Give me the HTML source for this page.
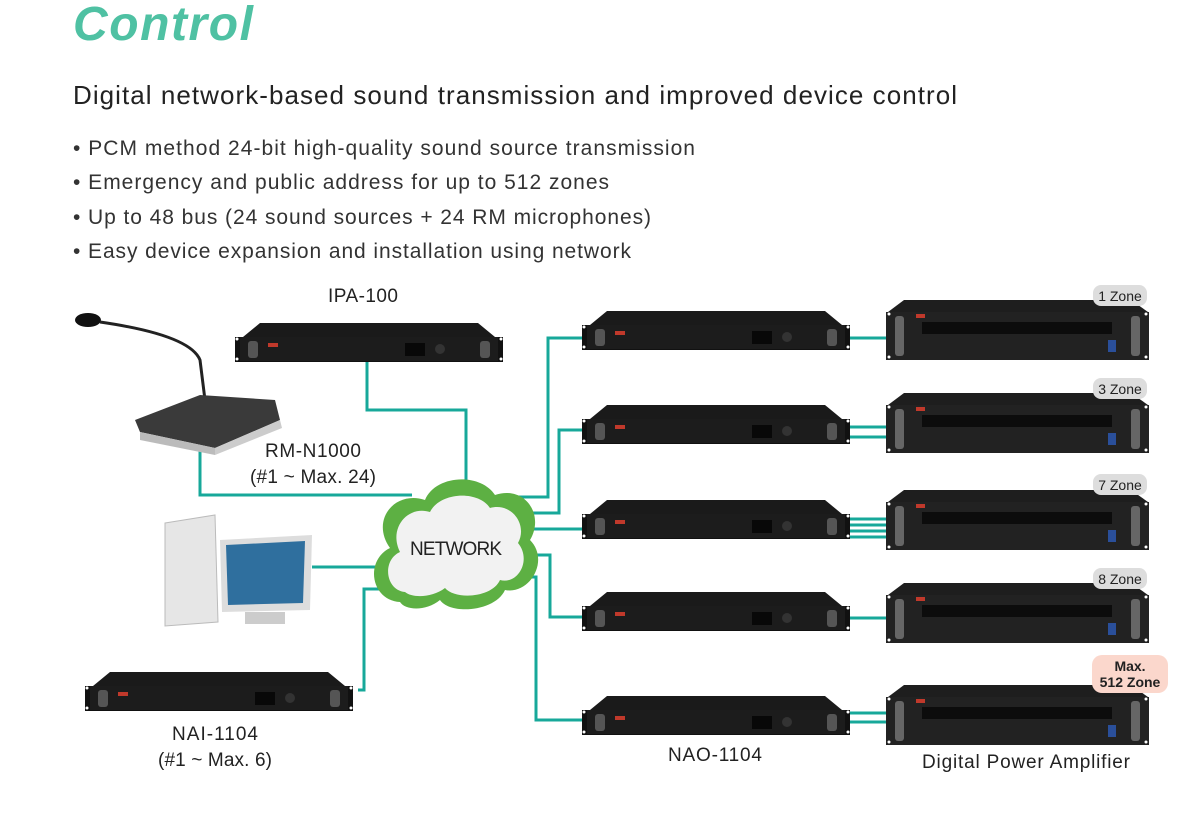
<!DOCTYPE html>
<html><head><meta charset="utf-8"><style>
html,body{margin:0;padding:0;background:#fff}
svg{display:block}
text{font-family:"Liberation Sans",sans-serif}
</style></head><body>
<svg width="1201" height="823" viewBox="0 0 1201 823" xmlns="http://www.w3.org/2000/svg">
<defs>
<g id="rack">
 <polygon points="20,0 238,0 255,14 3,14" fill="#1a1a1a"/>
 <rect x="-5" y="14" width="268" height="25" fill="#111"/>
 <rect x="0" y="14" width="258" height="24" fill="#1c1c1c"/>
 <rect x="8" y="18" width="10" height="17" rx="3" fill="#555"/>
 <rect x="240" y="18" width="10" height="17" rx="3" fill="#555"/>
 <rect x="28" y="20" width="10" height="4" fill="#c0392b"/>
 <rect x="165" y="20" width="20" height="13" fill="#080808"/>
 <circle cx="200" cy="26" r="5" fill="#333"/>
 <circle cx="-3" cy="16" r="1.5" fill="#fff"/><circle cx="-3" cy="36" r="1.5" fill="#fff"/>
 <circle cx="261" cy="16" r="1.5" fill="#fff"/><circle cx="261" cy="36" r="1.5" fill="#fff"/>
</g>
<g id="amp">
 <polygon points="18,0 245,0 262,12 2,12" fill="#1e1e1e"/>
 <rect x="0" y="12" width="263" height="48" fill="#222"/>
 <rect x="36" y="22" width="190" height="12" fill="#0c0c0c"/>
 <rect x="9" y="16" width="9" height="40" rx="3" fill="#666"/>
 <rect x="245" y="16" width="9" height="40" rx="3" fill="#666"/>
 <rect x="30" y="14" width="9" height="4" fill="#c0392b"/>
 <rect x="222" y="40" width="8" height="12" fill="#2a4f9a"/>
 <circle cx="3" cy="14" r="1.5" fill="#fff"/><circle cx="3" cy="57" r="1.5" fill="#fff"/>
 <circle cx="260" cy="14" r="1.5" fill="#fff"/><circle cx="260" cy="57" r="1.5" fill="#fff"/>
</g>
</defs>

<text x="73" y="40" font-size="48" font-weight="bold" font-style="italic" fill="#4fc1a3" textLength="180">Control</text>
<text x="73" y="104" font-size="26" fill="#222" textLength="884">Digital network-based sound transmission and improved device control</text>
<g font-size="21" fill="#333">
<text x="73" y="155" textLength="622">• PCM method 24-bit high-quality sound source transmission</text>
<text x="73" y="189" textLength="536">• Emergency and public address for up to 512 zones</text>
<text x="73" y="224" textLength="578">• Up to 48 bus (24 sound sources + 24 RM microphones)</text>
<text x="73" y="258" textLength="558">• Easy device expansion and installation using network</text>
</g>

<g stroke="#17a89a" stroke-width="3" fill="none">
 <polyline points="367,350 367,410 466,410 466,480"/>
 <polyline points="200,445 200,495 412,495"/>
 <polyline points="510,497 548,497 548,338 588,338"/>
 <polyline points="515,513 559,513 559,430 588,430"/>
 <polyline points="515,529 588,529"/>
 <polyline points="525,555 550,555 550,617 588,617"/>
 <polyline points="525,577 536,577 536,720 588,720"/>
 <polyline points="312,567 385,567"/>
 <polyline points="358,690 364,690 364,589 400,589"/>
 <line x1="845" y1="338" x2="888" y2="338"/>
 <line x1="845" y1="427" x2="888" y2="427"/>
 <line x1="845" y1="437" x2="888" y2="437"/>
 <line x1="845" y1="519" x2="888" y2="519"/>
 <line x1="845" y1="525" x2="888" y2="525"/>
 <line x1="845" y1="531" x2="888" y2="531"/>
 <line x1="845" y1="537" x2="888" y2="537"/>
 <line x1="845" y1="618" x2="888" y2="618"/>
 <line x1="845" y1="713" x2="888" y2="713"/>
 <line x1="845" y1="722" x2="888" y2="722"/>
</g>

<g>
 <path d="M400,602 C370,600 365,560 390,548 C370,520 395,490 425,500 C435,475 480,472 495,495 C525,485 545,515 530,540 C550,560 530,595 505,590 C495,612 450,615 440,600 C425,612 405,610 400,602 Z" fill="#5db043"/>
 <path d="M405,592 C385,590 382,560 400,552 C388,528 408,505 430,512 C440,492 478,490 490,508 C512,502 528,525 518,543 C532,560 518,585 500,580 C492,598 455,600 445,588 C432,598 412,598 405,592 Z" fill="#f2f2f2"/>
 <text x="456" y="555" font-size="19" fill="#222" text-anchor="middle" textLength="92">NETWORK</text>
</g>

<use href="#rack" x="240" y="323"/>
<text x="363" y="302" font-size="19" fill="#222" text-anchor="middle" textLength="70">IPA-100</text>

<g>
 <ellipse cx="88" cy="320" rx="13" ry="7" fill="#111"/>
 <path d="M100,322 Q190,335 200,360 L205,400" stroke="#222" stroke-width="3" fill="none"/>
 <polygon points="135,420 200,395 275,400 280,420 215,448 140,432" fill="#3a3a3a"/>
 <polygon points="140,432 215,448 215,455 140,440" fill="#bbb"/>
 <polygon points="215,448 280,420 282,428 215,455" fill="#ccc"/>
</g>
<text x="313" y="457" font-size="19" fill="#222" text-anchor="middle" textLength="96">RM-N1000</text>
<text x="313" y="483" font-size="19" fill="#222" text-anchor="middle" textLength="126">(#1 ~ Max. 24)</text>

<g>
 <polygon points="165,523 215,515 218,622 165,626" fill="#e6e6e6" stroke="#bbb"/>
 <polygon points="220,540 312,535 310,610 222,612" fill="#ddd"/>
 <polygon points="226,545 305,541 303,603 228,605" fill="#2f6f9e"/>
 <rect x="245" y="612" width="40" height="12" fill="#ccc"/>
</g>

<use href="#rack" x="90" y="672"/>
<text x="215" y="740" font-size="19" fill="#222" text-anchor="middle" textLength="86">NAI-1104</text>
<text x="215" y="766" font-size="19" fill="#222" text-anchor="middle" textLength="114">(#1 ~ Max. 6)</text>

<use href="#rack" x="587" y="311"/>
<use href="#rack" x="587" y="405"/>
<use href="#rack" x="587" y="500"/>
<use href="#rack" x="587" y="592"/>
<use href="#rack" x="587" y="696"/>
<text x="715" y="761" font-size="19" fill="#222" text-anchor="middle" textLength="94">NAO-1104</text>

<use href="#amp" x="886" y="300"/>
<use href="#amp" x="886" y="393"/>
<use href="#amp" x="886" y="490"/>
<use href="#amp" x="886" y="583"/>
<use href="#amp" x="886" y="685"/>
<text x="1026" y="768" font-size="19" fill="#222" text-anchor="middle" textLength="208">Digital Power Amplifier</text>

<g font-size="14" fill="#222" text-anchor="middle">
 <rect x="1093" y="285" width="54" height="21" rx="8" fill="#ddd"/><text x="1120" y="301">1 Zone</text>
 <rect x="1093" y="378" width="54" height="21" rx="8" fill="#ddd"/><text x="1120" y="394">3 Zone</text>
 <rect x="1093" y="474" width="54" height="21" rx="8" fill="#ddd"/><text x="1120" y="490">7 Zone</text>
 <rect x="1093" y="568" width="54" height="21" rx="8" fill="#ddd"/><text x="1120" y="584">8 Zone</text>
 <rect x="1092" y="655" width="76" height="38" rx="10" fill="#fbd7cc"/>
 <text x="1130" y="671" font-weight="bold">Max.</text>
 <text x="1130" y="687" font-weight="bold">512 Zone</text>
</g>
</svg>
</body></html>
